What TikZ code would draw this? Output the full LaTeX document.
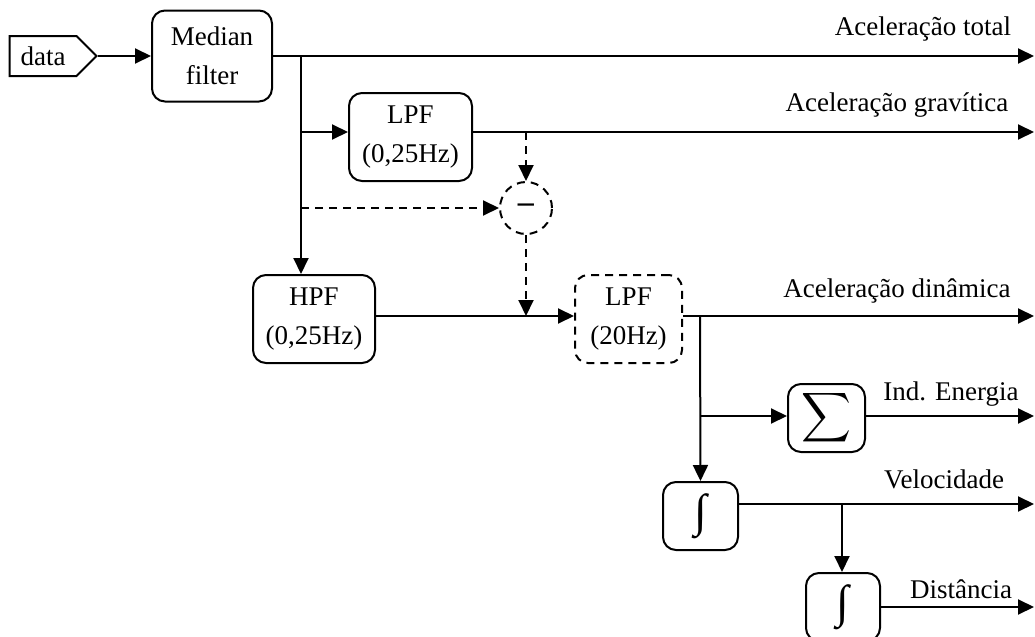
\documentclass[tikz,border=0pt]{standalone}
\usepackage{amsmath}
\usepackage{fontspec}
\setmainfont{Liberation Serif}
\usetikzlibrary{arrows.meta,shapes.symbols}
\newcommand\intglyph{{\fontsize{23}{23}\selectfont ∫}}
\begin{document}
\begin{tikzpicture}[x=0.5pt,y=-0.5pt,
  font=\fontsize{13.5}{19.5}\selectfont,
  line width=1pt,
  >={Triangle[length=8pt,width=7.5pt]},
  blk/.style={draw,rounded corners=6.5pt,align=center,inner sep=0pt},
  dsh/.style={dash pattern=on 4pt off 3pt},
  lbl/.style={anchor=base,inner sep=0pt}]
\useasboundingbox (0,0) rectangle (1035,637);
% nodes
\node[draw, signal, signal to=east, minimum width=43.5pt, minimum height=20pt, inner sep=0pt] (data) at (43,56) {data};
\node[blk, minimum width=60pt, minimum height=45.5pt] (median) at (212,56) {Median\\filter};
\node[blk, minimum width=61.5pt, minimum height=44pt] (lpfa) at (410.5,137) {LPF\\(0,25Hz)};
\node[draw, dsh, circle, minimum size=26pt, inner sep=0pt] (minus) at (526,208) {\fontsize{16}{16}\selectfont\textbf{–}};
\node[blk, minimum width=61pt, minimum height=44pt] (hpf) at (314,319) {HPF\\(0,25Hz)};
\node[blk, dsh, minimum width=53.5pt, minimum height=44pt] (lpfb) at (628.5,319) {LPF\\(20Hz)};
\node[blk, minimum width=38.5pt, minimum height=34pt] (sum) at (826.5,418) {\fontsize{18}{18}\selectfont$\displaystyle\sum$};
\node[blk, minimum width=37.5pt, minimum height=34pt] (inta) at (700.5,516) {\intglyph};
\node[blk, minimum width=37pt, minimum height=34pt] (intb) at (843,607) {\intglyph};
% junctions and ends
\coordinate (jm) at (301,56);
\coordinate (jg) at (301,132);
\coordinate (jd) at (301,208);
\coordinate (jc) at (526,132);
\coordinate (jh) at (526,316);
\coordinate (jl) at (700,316);
\coordinate (je) at (700,416);
\coordinate (jv) at (842,504);
\coordinate (eT) at (1034,56);
\coordinate (eG) at (1034,132);
\coordinate (eD) at (1034,316);
\coordinate (eE) at (1034,416);
\coordinate (eV) at (1034,504);
\coordinate (eS) at (1034,607);
% connectors
\draw[->] (data.east) -- (median.west);
\draw[->] (median.east) -- (eT);
\draw[->] (jm) -- (jm |- hpf.north);
\draw[->] (jg) -- (lpfa.west |- jg);
\draw[->] (lpfa.east |- jg) -- (eG);
\draw[->,dsh] (jc) -- (minus.north);
\draw[->,dsh] (jd) -- (minus.west);
\draw[->,dsh] (minus.south) -- (jh);
\draw[->] (hpf.east |- jh) -- (lpfb.west |- jh);
\draw[->] (lpfb.east |- jh) -- (eD);
\draw[->] (jl) -- (inta.north);
\draw[->] (je) -- (sum.west |- je);
\draw[->] (sum.east |- je) -- (eE);
\draw[->] (inta.east |- jv) -- (eV);
\draw[->] (jv) -- (jv |- intb.north);
\draw[->] (intb.east) -- (eS);
% labels
\node[lbl] (lt) at (923,35) {Aceleração total};
\node[lbl] (lg) at (897,112) {Aceleração gravítica};
\node[lbl] (ld) at (897,297) {Aceleração dinâmica};
\node[lbl] (le) at (951,400) {Ind. Energia};
\node[lbl] (lv) at (944,488) {Velocidade};
\node[lbl] (ls) at (961,598) {Distância};
\end{tikzpicture}
\end{document}
